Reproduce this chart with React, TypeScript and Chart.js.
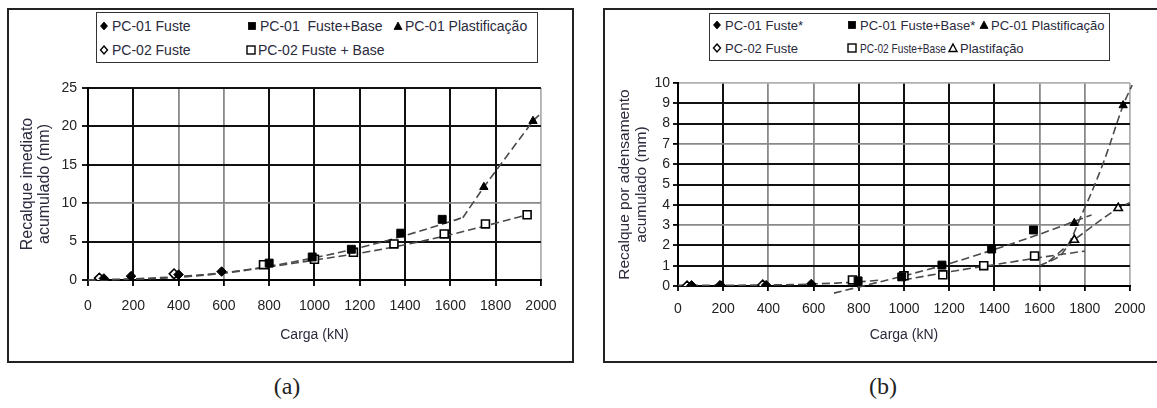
import React, { useEffect, useRef } from "react";
import { Chart, registerables } from "chart.js";

Chart.register(...registerables);

type P = [number, number];

// ---------- ticks ----------
const xTickValues = [0, 200, 400, 600, 800, 1000, 1200, 1400, 1600, 1800, 2000];
const aYTickValues = [0, 5, 10, 15, 20, 25];
const bYTickValues = [0, 1, 2, 3, 4, 5, 6, 7, 8, 9, 10];

// ---------- labels ----------
const xTitle = "Carga (kN)";
const aYTitle = ["Recalque imediato", "acumulado (mm)"];
const bYTitle = ["Recalque por adensamento", "acumulado (mm)"];
const aLabels = ["PC-01 Fuste", "PC-01  Fuste+Base", "PC-01 Plastificação", "PC-02 Fuste", "PC-02 Fuste + Base"];
const bLabels = ["PC-01 Fuste*", "PC-01 Fuste+Base*", "PC-01 Plastificação", "PC-02 Fuste", "PC-02 Fuste+Base", "Plastifação"];

// ---------- panel (a) data ----------
const aPc01Fuste: P[] = [[70, 0.2], [190, 0.5], [400, 0.7], [590, 1.1]];
const aPc02Fuste: P[] = [[50, 0.25], [380, 0.8]];
const aPc01FusteBase: P[] = [[800, 2.2], [990, 3.0], [1163, 4.0], [1381, 6.1], [1564, 7.9]];
const aPc02FusteBase: P[] = [[775, 2.0], [1000, 2.7], [1172, 3.6], [1351, 4.7], [1573, 6.0], [1755, 7.3], [1939, 8.5]];
const aPc01Plast: P[] = [[1748, 12.1], [1965, 20.7]];
const aTrend01: P[] = [[0, 0], [200, 0.15], [400, 0.45], [600, 0.95], [800, 1.8], [1000, 2.9], [1200, 4.2], [1400, 5.8], [1600, 7.6], [1660, 8.2]];
const aTrendPlast: P[] = [[1655, 8.1], [1748, 12.1], [1965, 20.7], [2000, 21.7]];
const aTrend02: P[] = [[0, 0], [200, 0.1], [400, 0.35], [600, 0.9], [800, 1.7], [1000, 2.6], [1200, 3.5], [1400, 4.6], [1600, 5.9], [1800, 7.4], [1940, 8.5]];

// ---------- panel (b) data ----------
const bPc01Fuste: P[] = [[60, 0.03], [190, 0.02], [390, 0.04], [590, 0.1]];
const bPc02Fuste: P[] = [[40, 0.0], [185, 0.0], [375, 0.05]];
const bPc01FusteBase: P[] = [[797, 0.25], [990, 0.45], [1168, 1.03], [1388, 1.82], [1573, 2.76]];
const bPc02FusteBase: P[] = [[772, 0.3], [1000, 0.5], [1172, 0.55], [1353, 1.0], [1578, 1.48]];
const bPc01Plast: P[] = [[1754, 3.1], [1970, 8.9]];
const bPlast: P[] = [[1754, 2.27], [1948, 3.84]];
const bTrendFuste: P[] = [[0, 0.03], [400, 0.05], [600, 0.1], [800, 0.2], [900, 0.3]];
const bTrend01: P[] = [[690, -0.35], [1000, 0.5], [1200, 1.1], [1400, 1.8], [1600, 2.55], [1830, 3.5]];
const bTrend02: P[] = [[1000, 0.3], [1200, 0.7], [1400, 1.05], [1600, 1.4], [1800, 1.72]];
const bTrendPlast02: P[] = [[1640, 1.2], [1754, 2.27], [1948, 3.84], [2000, 4.1]];
const bTrendPlast01: P[] = [[1600, 1.0], [1700, 1.6], [1790, 3.6], [1880, 6.0], [1970, 8.9], [2010, 9.9]];

// ---------- styles ----------
const FONT = "'Liberation Sans', Arial, sans-serif";
const TEXT = "#2a2a3c";
const NUM = "#222";
const K = "#111";
const G = "#8a8a8a";
const L = "#b0b0b0";
const aXGrid = [K, K, G, G, K, K, K, K, K, K, L];
const aYGrid = [K, K, G, K, K, K];
const bXGrid = [K, K, G, G, K, K, K, K, G, G, L];
const bYGrid = [K, K, K, G, K, K, K, G, K, K, L];

type Kind = "fd" | "od" | "fs" | "os" | "ft" | "ot";

const toXY = (arr: P[]) => arr.map(([x, y]) => ({ x, y }));

function marker(kind: Kind, label: string, data: P[]) {
  const filled = kind[0] === "f";
  const shape = kind[1];
  return {
    label,
    data: toXY(data),
    showLine: false,
    pointStyle: shape === "d" ? "rectRot" : shape === "s" ? "rect" : "triangle",
    pointRadius: shape === "d" ? 4.8 : shape === "s" ? 5.6 : 4.8,
    backgroundColor: filled ? "#000" : "#fff",
    borderColor: "#000",
    borderWidth: filled ? 1 : 1.6,
  };
}

function trend(data: P[], tension: number) {
  return {
    label: "",
    data: toXY(data),
    showLine: true,
    pointRadius: 0,
    borderColor: "#4a4a4a",
    borderWidth: 1.6,
    borderDash: [8, 4],
    tension,
    clip: false,
  };
}

interface PanelSpec {
  datasets: any[];
  yTicks: number[];
  yMax: number;
  yTitle: string[];
  yTitleSize: number;
  xGrid: string[];
  yGrid: string[];
  padding: { left: number; top: number; right: number; bottom: number };
  yAxisW: number;
  xAxisH: number;
  yTickLen: number;
  yTickPad: number;
  xTickLen: number;
  xTickPad: number;
}

function gridStyle(colors: string[], values: number[]) {
  return {
    color: (c: any) => {
      const i = values.indexOf(c.tick ? c.tick.value : -1);
      return i >= 0 ? colors[i] : K;
    },
    lineWidth: (c: any) => {
      const i = values.indexOf(c.tick ? c.tick.value : -1);
      const col = i >= 0 ? colors[i] : K;
      return col === K ? 2 : 1.8;
    },
  };
}

function buildConfig(p: PanelSpec): any {
  const xg = gridStyle(p.xGrid, xTickValues);
  const yg = gridStyle(p.yGrid, p.yTicks);
  return {
    type: "scatter",
    data: { datasets: p.datasets },
    options: {
      responsive: false,
      animation: false,
      events: [],
      layout: { padding: p.padding },
      plugins: { legend: { display: false }, tooltip: { enabled: false } },
      scales: {
        x: {
          type: "linear",
          min: 0,
          max: 2000,
          afterBuildTicks: (s: any) => {
            s.ticks = xTickValues.map((v) => ({ value: v }));
          },
          afterFit: (s: any) => {
            s.height = p.xAxisH;
          },
          ticks: {
            autoSkip: false,
            maxRotation: 0,
            padding: p.xTickPad,
            color: NUM,
            font: { family: FONT, size: 14 },
            callback: (v: any) => String(v),
          },
          grid: { ...xg, tickLength: p.xTickLen, tickColor: "#000", tickWidth: 1.8 },
          border: { color: "#000", width: 2 },
          title: {
            display: true,
            text: xTitle,
            color: TEXT,
            font: { family: FONT, size: 14 },
            padding: { top: 0, bottom: 16.5 },
          },
        },
        y: {
          type: "linear",
          min: 0,
          max: p.yMax,
          afterBuildTicks: (s: any) => {
            s.ticks = p.yTicks.map((v) => ({ value: v }));
          },
          afterFit: (s: any) => {
            s.width = p.yAxisW;
          },
          ticks: {
            autoSkip: false,
            padding: p.yTickPad,
            color: NUM,
            font: { family: FONT, size: 14 },
            callback: (v: any) => String(v),
          },
          grid: { ...yg, tickLength: p.yTickLen, tickColor: "#000", tickWidth: 1.8 },
          border: { color: "#000", width: 2 },
          title: {
            display: true,
            text: p.yTitle,
            color: TEXT,
            font: { family: FONT, size: p.yTitleSize, lineHeight: 17 / p.yTitleSize },
            padding: { top: 11.5, bottom: 0 },
          },
        },
      },
    },
  };
}

const panelA: PanelSpec = {
  datasets: [
    marker("fd", aLabels[0], aPc01Fuste),
    marker("od", aLabels[3], aPc02Fuste),
    marker("fs", aLabels[1], aPc01FusteBase),
    marker("os", aLabels[4], aPc02FusteBase),
    marker("ft", aLabels[2], aPc01Plast),
    trend(aTrend01, 0.35),
    trend(aTrendPlast, 0.1),
    trend(aTrend02, 0.35),
  ],
  yTicks: aYTickValues,
  yMax: 25,
  yTitle: aYTitle,
  yTitleSize: 16,
  xGrid: aXGrid,
  yGrid: aYGrid,
  padding: { left: 0, top: 18, right: 21, bottom: 0 },
  yAxisW: 80,
  xAxisH: 80,
  yTickLen: 6,
  yTickPad: 5,
  xTickLen: 6,
  xTickPad: 11.5,
};

const panelB: PanelSpec = {
  datasets: [
    marker("fd", bLabels[0], bPc01Fuste),
    marker("od", bLabels[3], bPc02Fuste),
    marker("fs", bLabels[1], bPc01FusteBase),
    marker("os", bLabels[4], bPc02FusteBase),
    marker("ft", bLabels[2], bPc01Plast),
    marker("ot", bLabels[5], bPlast),
    trend(bTrendFuste, 0.3),
    trend(bTrend01, 0.2),
    trend(bTrend02, 0.2),
    trend(bTrendPlast02, 0.35),
    trend(bTrendPlast01, 0.35),
  ],
  yTicks: bYTickValues,
  yMax: 10,
  yTitle: bYTitle,
  yTitleSize: 15.5,
  xGrid: bXGrid,
  yGrid: bYGrid,
  padding: { left: 0, top: 13, right: 13, bottom: 0 },
  yAxisW: 73,
  xAxisH: 74,
  yTickLen: 5,
  yTickPad: 3,
  xTickLen: 5,
  xTickPad: 9.5,
};

function ChartCanvas({ spec, left, top, width, height }: { spec: PanelSpec; left: number; top: number; width: number; height: number }) {
  const ref = useRef<HTMLCanvasElement | null>(null);
  useEffect(() => {
    if (!ref.current) return;
    const chart = new Chart(ref.current, buildConfig(spec));
    return () => chart.destroy();
  }, [spec]);
  return (
    <canvas
      ref={ref}
      width={width}
      height={height}
      style={{ position: "absolute", left, top, width, height }}
    />
  );
}

function Sym({ kind }: { kind: Kind }) {
  const filled = kind[0] === "f";
  const shape = kind[1];
  const fill = filled ? "#000" : "#fff";
  const sw = filled ? 0.8 : 1.4;
  let el: any;
  if (shape === "d") el = <polygon points="6,2 9.5,6 6,10 2.5,6" fill={fill} stroke="#000" strokeWidth={sw} />;
  else if (shape === "s") el = <rect x={filled ? 2.5 : 2} y={filled ? 2.5 : 2} width={filled ? 7 : 8} height={filled ? 7 : 8} fill={fill} stroke="#000" strokeWidth={sw} />;
  else el = <polygon points="6,2 10,9.5 2,9.5" fill={fill} stroke="#000" strokeWidth={sw} />;
  return (
    <svg width={12} height={12} style={{ position: "absolute", left: -6, top: -6 }}>
      {el}
    </svg>
  );
}

interface LegItem { kind: Kind; sx: number; tx: number; y: number; text: string; sx2?: number }

function Legend({ box, items, size }: { box: { left: number; top: number; width: number; height: number }; items: LegItem[]; size: number }) {
  return (
    <>
      <div
        style={{
          position: "absolute",
          left: box.left,
          top: box.top,
          width: box.width,
          height: box.height,
          border: "1.5px solid #333",
          boxSizing: "border-box",
        }}
      />
      {items.map((it, i) => (
        <React.Fragment key={i}>
          <div style={{ position: "absolute", left: it.sx, top: it.y, width: 0, height: 0 }}>
            <Sym kind={it.kind} />
          </div>
          <span
            style={{
              position: "absolute",
              left: it.tx,
              top: it.y,
              transform: `translateY(-50%) scaleX(${it.sx2 ?? 1})`,
              transformOrigin: "left center",
              font: `${size}px ${FONT}`,
              color: TEXT,
              whiteSpace: "pre",
              lineHeight: 1,
            }}
          >
            {it.text}
          </span>
        </React.Fragment>
      ))}
    </>
  );
}

const legendA: LegItem[] = [
  { kind: "fd", sx: 104, tx: 112, y: 26, text: aLabels[0] },
  { kind: "fs", sx: 252, tx: 260, y: 26, text: aLabels[1] },
  { kind: "ft", sx: 398, tx: 405, y: 26, text: aLabels[2] },
  { kind: "od", sx: 104, tx: 112, y: 50, text: aLabels[3] },
  { kind: "os", sx: 251, tx: 258, y: 50, text: aLabels[4] },
];

const legendB: LegItem[] = [
  { kind: "fd", sx: 717, tx: 725, y: 25, text: bLabels[0] },
  { kind: "fs", sx: 852, tx: 860, y: 25, text: bLabels[1] },
  { kind: "ft", sx: 984, tx: 991, y: 25, text: bLabels[2] },
  { kind: "od", sx: 717, tx: 725, y: 48, text: bLabels[3] },
  { kind: "os", sx: 852, tx: 860, y: 48, text: bLabels[4], sx2: 0.78 },
  { kind: "ot", sx: 953, tx: 960, y: 48, text: bLabels[5] },
];

export default function App() {
  return (
    <div
      style={{
        position: "absolute",
        left: 0,
        top: 0,
        width: 1157,
        height: 408,
        background: "#fff",
        overflow: "hidden",
      }}
    >
      <div style={{ position: "absolute", left: 7, top: 8, width: 567, height: 355, border: "2px solid #222", boxSizing: "border-box" }} />
      <div style={{ position: "absolute", left: 603, top: 8, width: 570, height: 355, border: "2px solid #222", boxSizing: "border-box" }} />
      <ChartCanvas spec={panelA} left={8} top={70} width={560} height={290} />
      <ChartCanvas spec={panelB} left={605} top={70} width={550} height={290} />
      <Legend box={{ left: 96, top: 12, width: 442, height: 51 }} items={legendA} size={14} />
      <Legend box={{ left: 709, top: 13, width: 401, height: 48 }} items={legendB} size={13} />
      <span style={{ position: "absolute", left: 287, top: 386, transform: "translate(-50%,-50%)", font: "24px 'Liberation Serif', serif", color: "#222" }}>(a)</span>
      <span style={{ position: "absolute", left: 883, top: 386, transform: "translate(-50%,-50%)", font: "24px 'Liberation Serif', serif", color: "#222" }}>(b)</span>
    </div>
  );
}
